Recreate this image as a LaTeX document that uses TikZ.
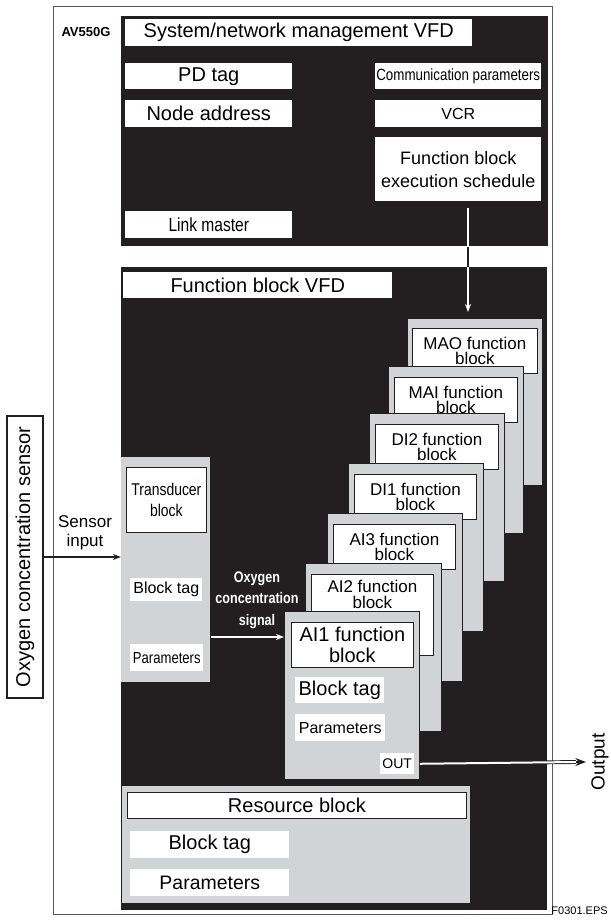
\documentclass[tikz,border=0pt]{standalone}
\usepackage{fontspec}
\setmainfont{Liberation Sans}
\newfontfamily\narrowfont[FakeStretch=0.82]{Liberation Sans}
\usetikzlibrary{arrows.meta}
\definecolor{panelblack}{HTML}{231F20}
\definecolor{blockgray}{HTML}{D1D3D4}
\definecolor{framegray}{HTML}{58595B}
\newcommand{\szL}{\fontsize{15pt}{16.5pt}\selectfont}
\newcommand{\szM}{\fontsize{12.75pt}{11.8pt}\selectfont}
\newcommand{\szS}{\fontsize{12pt}{14pt}\selectfont}

\begin{document}
\begin{tikzpicture}[
    x=0.75pt, y=-0.75pt,
    wh/.style 2 args={minimum width=#1*0.75pt, minimum height=#2*0.75pt},
    panel/.style={rectangle, fill=panelblack, inner sep=0pt, anchor=north west},
    fblock/.style={rectangle, draw=panelblack, line width=0.6pt, fill=blockgray, inner sep=0pt, anchor=north west},
    header/.style={rectangle, draw=panelblack, line width=0.6pt, fill=white, inner sep=0pt, align=center, anchor=north west},
    field/.style={rectangle, fill=white, inner sep=0pt, align=center, anchor=north west},
    flow/.style={line width=1.1pt, -{Stealth[length=6pt,width=4.5pt]}}
]
    \useasboundingbox (0,0) rectangle (610,920);

    % Device frame
    \node[rectangle, draw=framegray, line width=0.9pt, anchor=north west, wh={499}{908}] (device) at (53,6) {};
    \node[font=\bfseries\fontsize{9.75pt}{10pt}\selectfont] (devname) at (86,32) {AV550G};

    % System/network management VFD
    \node[panel, wh={427}{230}] (smvfd) at (121,16) {};
    \node[field, wh={347}{27}, font=\szL] (smtitle) at (125,19) {System/network management VFD};
    \node[field, wh={167}{26}, font=\szL] (pdtag) at (125,63) {PD tag};
    \node[field, wh={167}{27}, font=\szL] (nodeaddr) at (125,100) {Node address};
    \node[field, wh={167}{27}, font=\narrowfont\fontsize{14.25pt}{15pt}\selectfont] (linkmaster) at (125,211) {Link master};
    \node[field, wh={166}{26}, font=\narrowfont\fontsize{12.2pt}{14pt}\selectfont] (commparams) at (375,63) {Communication parameters};
    \node[field, wh={166}{27}, font=\szS] (vcr) at (375,100) {VCR};
    \node[field, wh={166}{64}, font=\fontsize{13.5pt}{17pt}\selectfont] (fbsched) at (375,137) {Function block\\execution schedule};

    % Function block VFD
    \node[panel, wh={426}{643}] (fbvfd) at (121,267) {};
    \node[field, wh={269}{26}, font=\szL] (fbtitle) at (123,272) {Function block VFD};

    % Function blocks
    \node[fblock, wh={135}{167}] (mao) at (407,318) {};
    \node[header, wh={125}{45}, font=\szM] (maotitle) at (412,328) {MAO function\\block};
    \node[fblock, wh={135}{167}] (mai) at (388,366) {};
    \node[header, wh={123}{45}, font=\szM] (maititle) at (394,377) {MAI function\\block};
    \node[fblock, wh={135}{168}] (di2) at (369,413) {};
    \node[header, wh={123}{45}, font=\szM] (di2title) at (375,424) {DI2 function\\block};
    \node[fblock, wh={135}{168}] (di1) at (348,463) {};
    \node[header, wh={122}{45}, font=\szM] (di1title) at (354,474) {DI1 function\\block};
    \node[fblock, wh={135}{168}] (ai3) at (327,513) {};
    \node[header, wh={122}{45}, font=\szM] (ai3title) at (333,524) {AI3 function\\block};
    \node[fblock, wh={136}{168}] (ai2) at (305,563) {};
    \node[header, font=\szM] (ai2title) at (311,574) {\parbox[t][60.75pt][t]{91.5pt}{\vspace{4.5pt}\centering AI2 function\\block}};
    \node[fblock, wh={135}{168}] (ai1) at (284,611) {};
    \node[header, wh={122}{45}, font=\fontsize{15pt}{16.25pt}\selectfont] (ai1title) at (291,622) {AI1 function\\block};
    \node[field, wh={89}{26}, font=\szL] (ai1tag) at (295,677) {Block tag};
    \node[field, wh={90}{27}, font=\szS] (ai1params) at (295,714) {Parameters};
    \node[field, wh={34}{21}, font=\fontsize{10.5pt}{12pt}\selectfont] (ai1out) at (380,753) {OUT};

    % Transducer block
    \node[fblock, draw=none, wh={89}{225}] (xdcr) at (121,457) {};
    \node[header, wh={80}{65}, font=\narrowfont\fontsize{12.75pt}{15.75pt}\selectfont] (xdcrtitle) at (126,467) {Transducer\\block};
    \node[field, wh={72}{23}, font=\szS] (xdcrtag) at (130,578) {Block tag};
    \node[field, wh={73}{27}, font=\narrowfont\szS] (xdcrparams) at (130,644) {Parameters};

    % Resource block
    \node[fblock, draw=none, wh={348}{117}] (resource) at (122,786) {};
    \node[header, wh={339}{26}, font=\szL] (restitle) at (127,792) {Resource block};
    \node[field, wh={159}{27}, font=\szL] (restag) at (130,831) {Block tag};
    \node[field, wh={159}{27}, font=\fontsize{14.6pt}{16pt}\selectfont] (resparams) at (130,869) {Parameters};

    % Sensor and output
    \node[rectangle, draw=panelblack, line width=0.8pt, rotate=90, wh={282}{36}, font=\szL] (sensor) at (25,557) {Oxygen concentration sensor};
    \node[align=center, font=\fontsize{12.75pt}{14pt}\selectfont] (sensorlbl) at (85,533) {Sensor\\input};
    \node[align=center, text=white, font=\narrowfont\bfseries\fontsize{11.5pt}{16pt}\selectfont] (signallbl) at (257,600) {Oxygen\\concentration\\signal};
    \node[rotate=90, font=\fontsize{14.25pt}{16pt}\selectfont] (outputlbl) at (600,762) {Output};
    \node[anchor=east, inner sep=0pt, font=\fontsize{8.25pt}{9pt}\selectfont] (figid) at (608,911) {F0301.EPS};

    % Connections
    \coordinate (schedout) at (468,208);
    \coordinate (sigin) at (284,637);
    \coordinate (outend) at (586,762);
    \coordinate (outtip) at (576,762);
    \draw[flow, white, shorten >=4.5pt] (schedout) -- (schedout |- mao.north);
    \draw[panelblack, line width=1.1pt] (schedout |- smvfd.south) -- (schedout |- fbvfd.north);
    \draw[flow, panelblack, line width=1.5pt] (sensor.south) -- (sensor.south -| xdcr.west);
    \draw[flow, white] (sigin -| xdcr.east) -- (sigin);
    \draw[panelblack, line width=0.7pt, double=white, double distance=1.5pt] (ai1out -| ai1.east) -- (outtip);
    \draw[panelblack, line width=1pt, -{Stealth[length=8pt,width=6pt]}] (outtip) -- (outend);

\end{tikzpicture}
\end{document}
